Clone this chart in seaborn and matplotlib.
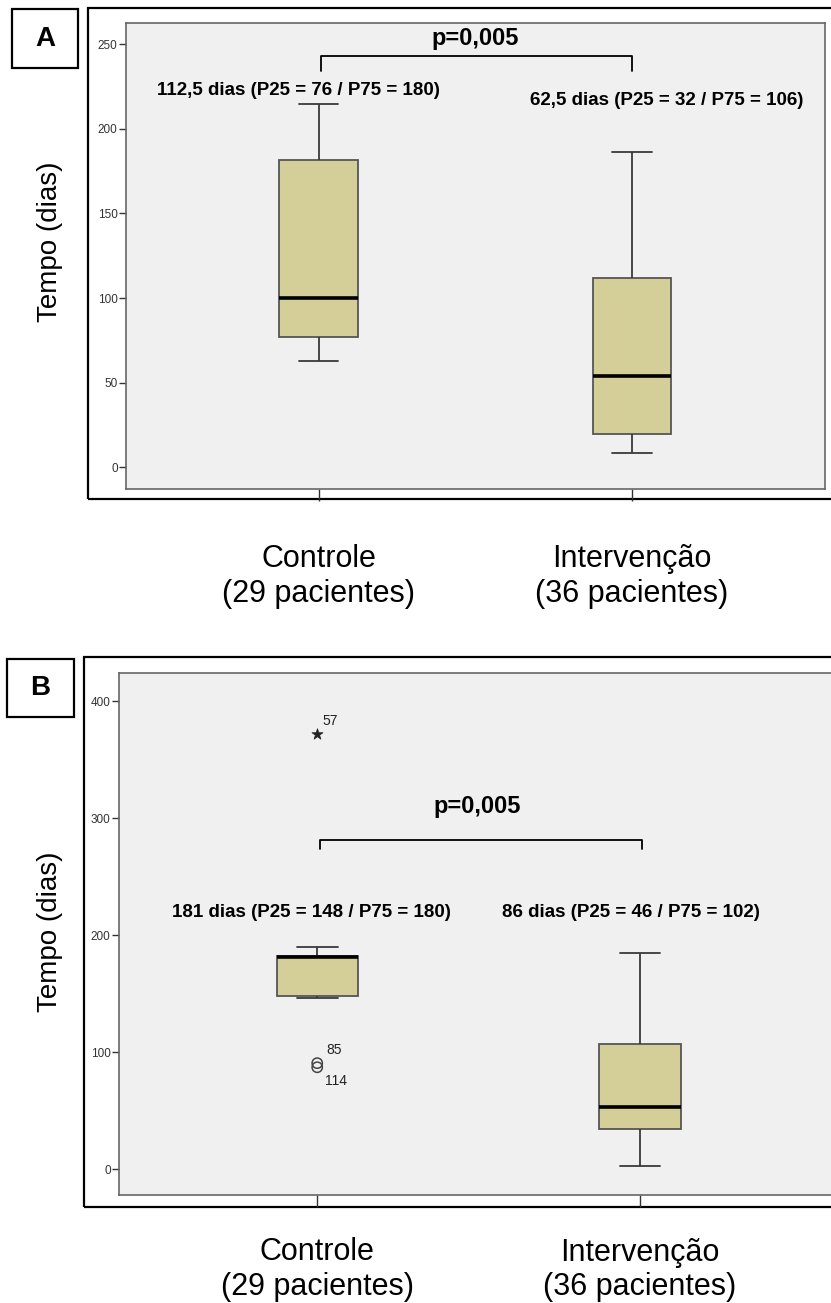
import numpy as np
import pandas as pd
import matplotlib
matplotlib.use("Agg")
import matplotlib.pyplot as plt
from matplotlib.patches import Rectangle
import seaborn as sns

# ---------------- data ----------------
categories = ["Controle\n(29 pacientes)", "Intervenção\n(36 pacientes)"]
# five-number summaries: [lower whisker, Q1, median, Q3, upper whisker]
a_controle = [63, 77, 100, 181.5, 215]
a_intervencao = [8.5, 19.5, 54, 112, 186.5]
b_controle = [146, 148, 181, 182, 189.5]
b_intervencao = [3, 34, 53, 107, 184.5]
# outliers of panel B (Controle)
b_out_values = [372, 90.5, 87]
b_out_labels = ["57", "85", "114"]
b_out_marker = ["*", "o", "o"]

a_stats_text = ["112,5 dias (P25 = 76 / P75 = 180)", "62,5 dias (P25 = 32 / P75 = 106)"]
b_stats_text = ["181 dias (P25 = 148 / P75 = 180)", "86 dias (P25 = 46 / P75 = 102)"]
p_text = "p=0,005"
a_yticks = [0, 50, 100, 150, 200, 250]
b_yticks = [0, 100, 200, 300, 400]

sns.set_theme(style="white")
plt.rcParams["font.family"] = ["Liberation Sans", "DejaVu Sans"]
plt.rcParams["text.color"] = "black"
plt.rcParams["axes.labelcolor"] = "black"

W, H = 831, 1303
fig = plt.figure(figsize=(W / 100, H / 100), dpi=100)


def fx(px):
    return px / W


def fy(py):
    return 1 - py / H


def make_df(c, i):
    return pd.DataFrame({
        "grupo": [categories[0]] * len(c) + [categories[1]] * len(i),
        "tempo": list(c) + list(i),
    })


def panel(ax_box, frame, label_box, letter, df, ylim, yticks, xlim, pad):
    x0, x1, y0, y1 = ax_box
    ax = fig.add_axes([fx(x0), fy(y1), fx(x1) - fx(x0), fy(y0) - fy(y1)])
    ax.set_facecolor("#f0f0f0")
    sns.boxplot(data=df, x="grupo", y="tempo", order=categories, ax=ax,
                width=0.252, whis=np.inf, color="#d4cf98", saturation=1,
                linecolor="#3a3a3a", linewidth=1.3, showfliers=False,
                medianprops=dict(color="black", linewidth=2.6),
                boxprops=dict(edgecolor="#555555"))
    ax.set_xlim(*xlim)
    ax.set_ylim(*ylim)
    ax.set_yticks(yticks)
    ax.set_yticklabels([str(t) for t in yticks], fontsize=8.5, color="#333333")
    ax.set_xticks([0, 1])
    ax.set_xticklabels(categories, fontsize=22, color="black", linespacing=1.2)
    ax.set_xlabel("")
    ax.set_ylabel("")
    ax.tick_params(axis="y", direction="out", length=5, width=1, color="#333333",
                   left=True, pad=1)
    ax.tick_params(axis="x", direction="out", length=8.6, width=1, color="#333333",
                   bottom=True, pad=pad)
    for s in ax.spines.values():
        s.set_visible(True)
        s.set_color("#666666")
        s.set_linewidth(1.2)
    # outer frame
    fx0, fy0, fy1 = frame
    fig.add_artist(Rectangle((fx(fx0), fy(fy1)), 1.2, fy(fy0) - fy(fy1),
                             transform=fig.transFigure, fill=False,
                             edgecolor="black", linewidth=1.6, zorder=0))
    # letter box
    lx0, lx1, ly0, ly1 = label_box
    fig.add_artist(Rectangle((fx(lx0), fy(ly1)), fx(lx1) - fx(lx0), fy(ly0) - fy(ly1),
                             transform=fig.transFigure, facecolor="white",
                             edgecolor="black", linewidth=1.6))
    fig.text(fx((lx0 + lx1) / 2), fy((ly0 + ly1) / 2), letter, ha="center",
             va="center", fontsize=20, fontweight="bold", color="black")
    return ax


# ---------------- panel A ----------------
axA = panel((126, 825, 23, 489), (88, 8, 499), (12, 78, 9, 68), "A",
            make_df(a_controle, a_intervencao), (-13, 262.7), a_yticks,
            (-0.615, 1.616), 31)
axA.plot([0.007, 0.007, 1.0, 1.0], [234.3, 243.2, 243.2, 234.3], color="black", lw=1.3)
axA.text(0.499, 253.8, p_text, ha="center", va="center", fontsize=17, fontweight="bold")
axA.text(-0.065, 223, a_stats_text[0], ha="center", va="center", fontsize=13.5, fontweight="bold")
axA.text(1.11, 217, a_stats_text[1], ha="center", va="center", fontsize=13.5, fontweight="bold")
fig.text(fx(50), fy(242), "Tempo (dias)", rotation=90, ha="center", va="center", fontsize=20)

# ---------------- panel B ----------------
axB = panel((119, 837, 673, 1195), (84, 657, 1207), (7, 74, 659, 717), "B",
            make_df(b_controle, b_intervencao), (-22.2, 424), b_yticks,
            (-0.614, 1.61), 22)
axB.plot([0.01, 0.01, 1.007, 1.007], [273.5, 281.2, 281.2, 273.5], color="black", lw=1.3)
axB.text(0.495, 310, p_text, ha="center", va="center", fontsize=17, fontweight="bold")
axB.text(-0.018, 219.7, b_stats_text[0], ha="center", va="center", fontsize=13.5, fontweight="bold")
axB.text(0.973, 219.7, b_stats_text[1], ha="center", va="center", fontsize=13.5, fontweight="bold")

out_df = pd.DataFrame({"grupo": [categories[0]] * len(b_out_values),
                       "tempo": b_out_values, "m": b_out_marker})
for mk, sub in out_df.groupby("m"):
    if mk == "*":
        sns.scatterplot(data=sub, x="grupo", y="tempo", ax=axB, marker="*", s=70,
                        color="#222222", edgecolor="#222222", linewidth=0.5, legend=False)
    else:
        sns.scatterplot(data=sub, x="grupo", y="tempo", ax=axB, marker="o", s=55,
                        facecolor="none", edgecolor="#444444", linewidth=1.1, legend=False)
offsets = [(5, 13), (9, 13), (8, -14)]
for v, lab, off in zip(b_out_values, b_out_labels, offsets):
    axB.annotate(lab, (0, v), xytext=off, textcoords="offset pixels",
                 ha="left", va="center", fontsize=10, color="#222222")
axB.set_xlim(-0.614, 1.61)
axB.set_xlabel("")
axB.set_ylabel("")
fig.text(fx(50), fy(932), "Tempo (dias)", rotation=90, ha="center", va="center", fontsize=20)

fig.savefig("out.png", dpi=100, facecolor="white")
